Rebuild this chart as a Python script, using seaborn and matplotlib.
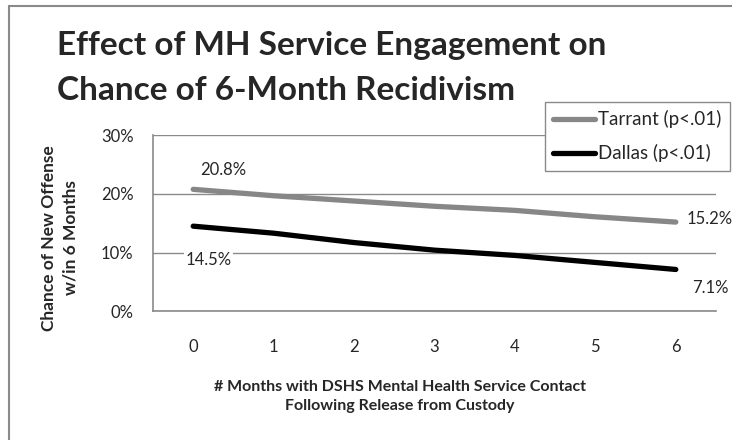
import pandas as pd
import matplotlib.pyplot as plt
import seaborn as sns
from matplotlib.lines import Line2D

# Chart data
months = [0, 1, 2, 3, 4, 5, 6]
tarrant = [20.8, 19.7, 18.8, 17.9, 17.2, 16.1, 15.2]
dallas = [14.5, 13.3, 11.7, 10.4, 9.5, 8.3, 7.1]
series_names = ["Tarrant (p<.01)", "Dallas (p<.01)"]
y_ticks = [0, 10, 20, 30]


def main():
    sns.set_style("white")
    plt.rcParams["font.family"] = ["Lato", "DejaVu Sans"]

    df = pd.concat([
        pd.DataFrame({"month": months, "pct": tarrant, "county": series_names[0]}),
        pd.DataFrame({"month": months, "pct": dallas, "county": series_names[1]}),
    ])

    fig = plt.figure(figsize=(7.32, 4.40), dpi=100)
    W, H = 732, 440
    ax = fig.add_axes([153 / W, 1 - 311 / H, (716 - 153) / W, (311 - 135.5) / H])

    grey = "#8a8a8a"
    palette = {series_names[0]: "#878787", series_names[1]: "black"}
    sns.lineplot(data=df, x="month", y="pct", hue="county", palette=palette,
                 linewidth=3.8, ax=ax, legend=False, solid_capstyle="round")

    # axes styling, Excel-like
    ax.set_xlim(-0.5, 6.5)
    ax.set_ylim(0, 30)
    ax.set_yticks(y_ticks)
    ax.set_yticklabels([f"{t}%" for t in y_ticks])
    ax.set_xticks(months)
    ax.set_xticklabels([str(m) for m in months])
    ax.set_xticks([m - 0.5 for m in months] + [6.5], minor=True)
    ax.yaxis.grid(True, color=grey, linewidth=1)
    ax.set_axisbelow(True)
    for side in ["top", "right"]:
        ax.spines[side].set_visible(False)
    for side in ["left", "bottom"]:
        ax.spines[side].set_color(grey)
        ax.spines[side].set_linewidth(1.2)
    ax.tick_params(axis="x", which="major", length=0, pad=20, labelsize=12)
    ax.tick_params(axis="x", which="minor", length=5, width=1.2, color=grey, direction="out")
    ax.tick_params(axis="y", length=5, width=1.2, color=grey, direction="out", pad=9, labelsize=12)
    ax.set_xlabel("")
    ax.set_ylabel("")

    # data labels at the end points
    labels = [
        (0, tarrant[0], (30, 19), "center", None),
        (6, tarrant[6], (11, 3), "left", None),
        (0, dallas[0], (15, -34), "center", "white"),
        (6, dallas[6], (35, -19), "center", None),
    ]
    for x, y, off, ha, bg in labels:
        bbox = dict(facecolor=bg, edgecolor="none", pad=1) if bg else None
        ax.annotate(f"{y:.1f}%", xy=(x, y), xytext=off, textcoords="offset pixels",
                    ha=ha, va="center", fontsize=12, bbox=bbox)

    # title
    fig.text(57 / W, 1 - 55 / H, "Effect of MH Service Engagement on",
             fontsize=24, fontweight="bold", va="baseline", ha="left")
    fig.text(57 / W, 1 - 100 / H, "Chance of 6-Month Recidivism",
             fontsize=24, fontweight="bold", va="baseline", ha="left")

    # axis titles
    fig.text(60 / W, 1 - 238 / H, "Chance of New Offense\nw/in 6 Months",
             rotation=90, ha="center", va="center", fontsize=12.5, fontweight="bold",
             multialignment="center", linespacing=1.45)
    fig.text(400 / W, 1 - 396.5 / H,
             "# Months with DSHS Mental Health Service Contact\nFollowing Release from Custody",
             ha="center", va="center", fontsize=11.5, fontweight="bold",
             multialignment="center", linespacing=1.5)

    # legend
    handles = [Line2D([0], [0], color=palette[n], linewidth=3.8, solid_capstyle="round")
               for n in series_names]
    leg = fig.legend(handles, series_names, loc="upper left",
                     bbox_to_anchor=(545 / W, 1 - 102 / H), fontsize=13.5,
                     frameon=True, fancybox=False, handlelength=2.2,
                     handletextpad=0.2, labelspacing=0.85, borderpad=0.45,
                     borderaxespad=0, framealpha=1)
    leg.get_frame().set_edgecolor(grey)
    leg.get_frame().set_linewidth(1)

    # outer chart border (top and left edges visible)
    fig.add_artist(Line2D([9 / W, 1.01], [1 - 5.7 / H] * 2, color=grey, linewidth=1.5,
                          transform=fig.transFigure))
    fig.add_artist(Line2D([9 / W] * 2, [1 - 5.7 / H, -0.01], color=grey, linewidth=1.5,
                          transform=fig.transFigure))

    fig.savefig("out.png", dpi=100)


if __name__ == "__main__":
    main()
